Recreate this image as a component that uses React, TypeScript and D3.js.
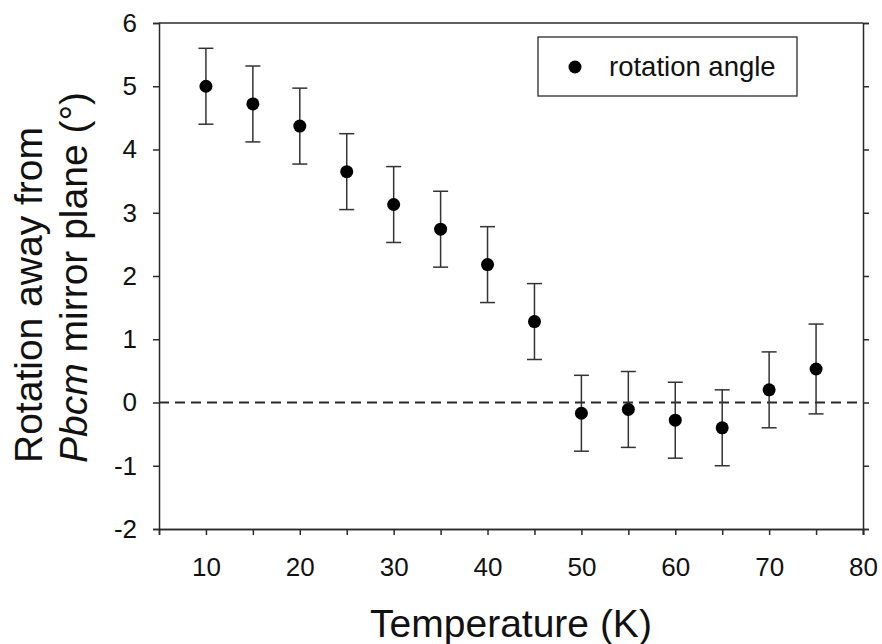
import React, { useRef, useEffect } from "react";
import * as d3 from "d3";

// temperatures (K) and rotation angles (deg)
const temps = [10, 15, 20, 25, 30, 35, 40, 45, 50, 55, 60, 65, 70, 75];
const angles = [5.0, 4.72, 4.37, 3.65, 3.13, 2.74, 2.18, 1.28, -0.17, -0.11, -0.28, -0.4, 0.2, 0.53];
const errors = [0.6, 0.6, 0.6, 0.6, 0.6, 0.6, 0.6, 0.6, 0.6, 0.6, 0.6, 0.6, 0.6, 0.71];
const xTicks = [10, 20, 30, 40, 50, 60, 70, 80];
const xMinor = [15, 25, 35, 45, 55, 65, 75];
const yTicks = [-2, -1, 0, 1, 2, 3, 4, 5, 6];

const App = () => {
  const ref = useRef<SVGSVGElement>(null);

  useEffect(() => {
    const svg = d3.select(ref.current);
    svg.selectAll("*").remove();

    const left = 159, right = 863, top = 23, bottom = 529;
    const x = d3.scaleLinear().domain([5, 80]).range([left, right]);
    const y = d3.scaleLinear().domain([-2, 6]).range([bottom, top]);
    const ink = "#2a2a2a";
    const font = "Liberation Sans, Arial, sans-serif";

    // top frame line
    svg.append("line").attr("x1", left).attr("x2", right).attr("y1", top).attr("y2", top)
      .attr("stroke", ink).attr("stroke-width", 1.5);

    const styleAxis = (g: any) => {
      g.attr("font-size", null).attr("font-family", null);
      g.select(".domain").attr("stroke", ink).attr("stroke-width", 1.5);
      g.selectAll(".tick line").attr("stroke", ink).attr("stroke-width", 1.5);
      g.selectAll("text").attr("fill", "#111").style("font-family", font).style("font-size", "26px");
    };
    const plain = (d: any) => String(d);

    svg.append("g").attr("transform", `translate(0,${bottom})`)
      .call(d3.axisBottom(x).tickValues(xTicks).tickSizeOuter(0).tickSize(6).tickPadding(23).tickFormat(plain))
      .call(styleAxis);
    svg.append("g").attr("transform", `translate(0,${bottom})`)
      .call(d3.axisBottom(x).tickValues(xMinor).tickSizeOuter(0).tickSize(6).tickFormat(() => ""))
      .call(styleAxis);

    svg.append("g").attr("transform", `translate(${left},0)`)
      .call(d3.axisLeft(y).tickValues(yTicks).tickSizeOuter(0).tickSize(6).tickPadding(16).tickFormat(plain))
      .call(styleAxis);
    svg.append("g").attr("transform", `translate(${right},0)`)
      .call(d3.axisRight(y).tickValues(yTicks).tickSizeOuter(0).tickSize(6).tickFormat(() => ""))
      .call(styleAxis);

    // zero line
    svg.append("line").attr("x1", left).attr("x2", right).attr("y1", y(0)).attr("y2", y(0))
      .attr("stroke", ink).attr("stroke-width", 1.8).attr("stroke-dasharray", "10,6");

    const data = temps.map((t, i) => ({ t, v: angles[i], e: errors[i] }));

    // error bars
    const eb = svg.append("g").attr("stroke", "#333").attr("stroke-width", 1.5);
    data.forEach((d) => {
      eb.append("line").attr("x1", x(d.t)).attr("x2", x(d.t)).attr("y1", y(d.v - d.e)).attr("y2", y(d.v + d.e));
      eb.append("line").attr("x1", x(d.t) - 7.5).attr("x2", x(d.t) + 7.5).attr("y1", y(d.v + d.e)).attr("y2", y(d.v + d.e));
      eb.append("line").attr("x1", x(d.t) - 7.5).attr("x2", x(d.t) + 7.5).attr("y1", y(d.v - d.e)).attr("y2", y(d.v - d.e));
    });

    svg.append("g").selectAll("circle").data(data).enter().append("circle")
      .attr("cx", (d) => x(d.t)).attr("cy", (d) => y(d.v)).attr("r", 6.5).attr("fill", "#000");

    // legend
    svg.append("rect").attr("x", 538).attr("y", 37).attr("width", 259).attr("height", 59)
      .attr("fill", "white").attr("stroke", ink).attr("stroke-width", 1.3);
    svg.append("circle").attr("cx", 575).attr("cy", 67).attr("r", 6.5).attr("fill", "#000");
    svg.append("text").attr("x", 609).attr("y", 76).text("rotation angle")
      .style("font-family", font).style("font-size", "27.5px").attr("fill", "#111");

    // axis titles
    svg.append("text").attr("x", (left + right) / 2).attr("y", 637).attr("text-anchor", "middle")
      .style("font-family", font).style("font-size", "39px").attr("fill", "#111").text("Temperature (K)");

    const yt = svg.append("text").attr("transform", "translate(0,463) rotate(-90)").attr("text-anchor", "start")
      .style("font-family", font).style("font-size", "39px").attr("fill", "#111");
    yt.append("tspan").attr("x", 0).attr("y", 42).text("Rotation away from");
    const l2 = yt.append("tspan").attr("x", 0).attr("y", 87);
    l2.append("tspan").style("font-style", "italic").text("Pbcm");
    l2.append("tspan").text(" mirror plane (°)");
  }, []);

  return <svg ref={ref} width={882} height={644} style={{ position: "absolute", left: 0, top: 0, background: "white" }} />;
};

export default App;
